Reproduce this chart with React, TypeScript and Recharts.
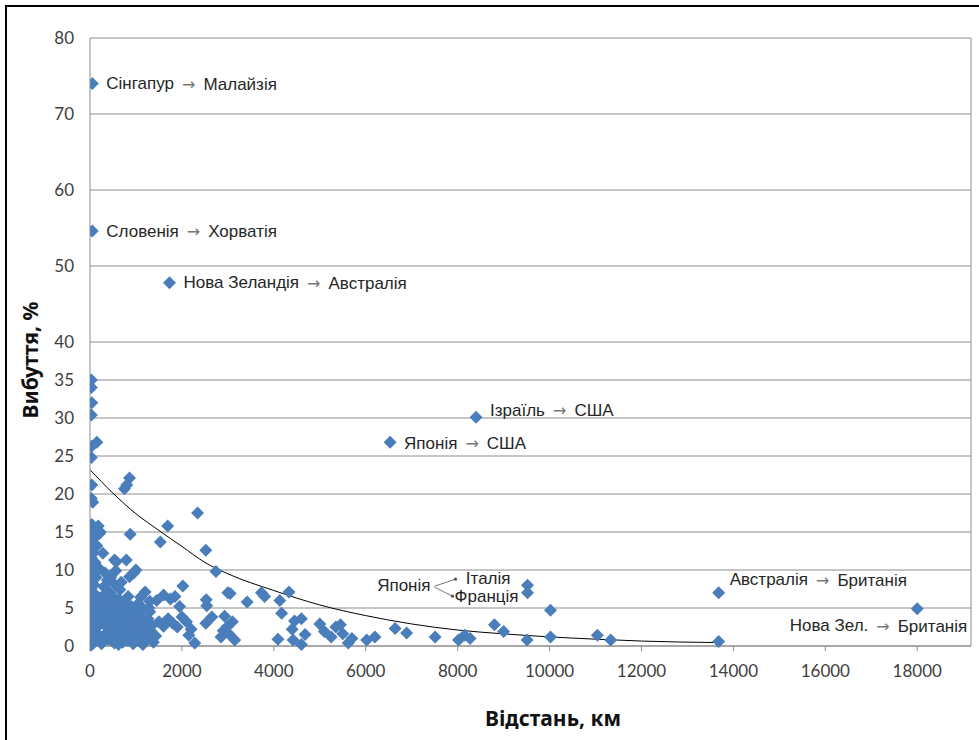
import React from 'react';
import { ComposedChart, Scatter, Line, XAxis, YAxis, CartesianGrid, ReferenceLine } from 'recharts';

const xTicks = [0, 2000, 4000, 6000, 8000, 10000, 12000, 14000, 16000, 18000];
const yTicks = [0, 5, 10, 15, 20, 25, 30, 35, 40, 50, 60, 70, 80];

// distance (km), loss (%)
const columnNearZero = [
  [30, 35], [30, 34], [40, 32], [30, 30.4], [150, 26.8], [40, 26.3], [30, 24.8], [40, 21.2],
  [30, 19.4], [60, 18.9], [40, 16], [180, 15.8], [60, 15.4], [220, 15], [30, 14.7], [90, 14.2],
  [40, 13.6], [150, 13.2], [30, 12.8], [70, 12.2], [30, 11.6], [110, 11], [40, 10.5], [60, 10],
  [30, 9.4], [130, 9], [40, 8.6], [80, 8.1], [30, 7.6], [60, 7.1], [30, 6.6], [100, 6.2],
  [40, 5.7], [30, 5.2], [70, 4.8], [30, 4.3], [50, 3.8], [30, 3.3], [80, 2.9], [30, 2.4],
  [60, 2], [30, 1.5], [90, 1.1], [30, 0.7], [60, 0.3], [20, 0.1],
];

const shortRange = [
  [200, 6.3], [260, 5.4], [320, 6.8], [380, 4.6], [450, 5.9], [520, 6.4], [580, 5.1], [640, 6.1],
  [700, 4.7], [760, 5.8], [830, 6.5], [900, 5.2], [980, 4.4], [1050, 5.6], [1150, 4.9], [1280, 5.0],
  [1300, 5.9], [160, 3.9], [240, 3.1], [300, 4.2], [350, 2.6], [420, 3.6], [480, 2.2], [560, 3.8],
  [600, 2.9], [680, 3.4], [720, 2.1], [790, 4.0], [850, 2.8], [920, 3.3], [960, 2.4], [1020, 3.7],
  [1090, 2.6], [1170, 3.1], [1230, 2.0], [1350, 2.7], [130, 1.8], [210, 1.2], [280, 0.6], [340, 1.6],
  [400, 0.9], [460, 1.4], [530, 0.4], [590, 1.9], [650, 1.0], [710, 0.5], [770, 1.5], [820, 0.8],
  [880, 1.8], [940, 0.3], [1000, 1.2], [1070, 0.7], [1130, 1.6], [1200, 0.9], [1250, 1.4], [1380, 0.5],
  [1430, 1.3], [280, 12.2], [535, 11.3], [570, 11.1], [790, 11.3], [1000, 10], [860, 9.1], [380, 8.7],
  [450, 9.0], [207, 14.8], [875, 14.7], [750, 20.7], [860, 22.1], [800, 21.2], [950, 9.6], [650, 7.4],
  [300, 7.8], [520, 8.2], [150, 5.0], [230, 4.5], [330, 5.6], [410, 3.0], [470, 4.4], [540, 2.8],
  [610, 4.5], [660, 2.3], [740, 3.0], [800, 4.8], [870, 3.9], [910, 1.2], [990, 2.0], [1060, 4.6],
  [1110, 3.9], [1180, 2.3], [1260, 3.6], [1330, 1.9], [180, 2.6], [250, 0.3], [370, 3.3], [500, 1.0],
  [620, 0.2], [750, 2.4], [960, 1.0], [1150, 0.2], [430, 7.0], [680, 8.4], [200, 10.2], [330, 9.6],
  [560, 9.9], [1100, 6.4], [1200, 7.1],
];

const midRange = [
  [1530, 13.7], [1690, 15.8], [2340, 17.5], [2520, 12.6], [2740, 9.8], [2020, 7.9], [3000, 7.0],
  [2530, 6.1], [2540, 5.3], [3420, 5.8], [1270, 5.0], [1300, 4.5], [1450, 6.0], [1600, 6.7],
  [1750, 6.2], [1850, 6.5], [1950, 5.2], [1500, 3.2], [1600, 2.6], [1700, 3.6], [1800, 3.0],
  [1900, 2.5], [2000, 3.8], [2100, 3.2], [2150, 1.4], [2200, 2.2], [2280, 0.4], [2520, 3.0],
  [2650, 3.8], [2930, 3.9], [2980, 2.5], [3020, 1.6], [3100, 3.2], [3150, 0.8], [2850, 1.2],
  [2900, 2.0], [3050, 6.9],
];

const longRange = [
  [3730, 7.0], [3800, 6.5], [4130, 6.0], [4330, 7.1], [4170, 4.3], [4090, 0.9], [4400, 2.2],
  [4450, 3.3], [4600, 3.6], [4420, 0.8], [4600, 0.2], [4680, 1.5], [5000, 2.9], [5100, 1.9],
  [5250, 1.2], [5350, 2.5], [5450, 2.8], [5500, 1.6], [5620, 0.4], [5700, 1.0], [6020, 0.8],
  [6200, 1.2], [6640, 2.3], [6890, 1.7], [7510, 1.2], [8020, 0.8], [8150, 1.4], [8270, 1.0],
  [8800, 2.8], [9000, 1.9], [9510, 0.8], [10020, 4.7], [10020, 1.2], [11040, 1.4], [11330, 0.8],
  [13680, 0.6],
];

const namedPairs = [
  { id: 'sg', x: 50, y: 74, text: 'Сінгапур', to: 'Малайзія' },
  { id: 'si', x: 50, y: 54.6, text: 'Словенія', to: 'Хорватія' },
  { id: 'nz', x: 1730, y: 47.8, text: 'Нова Зеландія', to: 'Австралія' },
  { id: 'il', x: 8400, y: 30.1, text: 'Ізраїль', to: 'США' },
  { id: 'jp', x: 6530, y: 26.8, text: 'Японія', to: 'США' },
  { id: 'it', x: 9520, y: 8.0, text: 'Японія', to: 'Італія' },
  { id: 'fr', x: 9520, y: 7.0, text: 'Японія', to: 'Франція' },
  { id: 'au', x: 13680, y: 7.0, text: 'Австралія', to: 'Британія' },
  { id: 'nzb', x: 18000, y: 4.9, text: 'Нова Зел.', to: 'Британія' },
];

const trendDistance = [0, 500, 1000, 1500, 2000, 2500, 3000, 4000, 5000, 6000, 7000, 8000, 9000, 10000, 11000, 12000, 13680];
const trendLoss = [23.2, 20.1, 17.4, 15.2, 13.1, 11.0, 9.5, 7.3, 5.4, 4.0, 2.9, 2.1, 1.6, 1.2, 0.9, 0.65, 0.45];

const X_MAX = 19170;
const BLUE = '#4a7ebb';
const GRID = '#8c8c8c';
const TEXT = '#262626';
const LABEL_FONT = '"Liberation Sans", Arial, sans-serif';

const labelPlacement: Record<string, { dx: number; dy: number; anchor: 'start' | 'end' }> = {
  sg: { dx: 14, dy: 0, anchor: 'start' },
  si: { dx: 14, dy: 0, anchor: 'start' },
  nz: { dx: 14, dy: 0, anchor: 'start' },
  il: { dx: 14, dy: -7, anchor: 'start' },
  jp: { dx: 14, dy: 1, anchor: 'start' },
  au: { dx: 11, dy: -13, anchor: 'start' },
  nzb: { dx: 50, dy: 17, anchor: 'end' },
};

const toPoints = (arr: number[][]) => arr.map(([x, y]) => ({ x, y }));
const allPoints = [...columnNearZero, ...shortRange, ...midRange, ...longRange];
const trend = trendDistance.map((x, i) => ({ x, y: trendLoss[i] }));

const R = 6.5;
const diamondPath = (cx: number, cy: number) =>
  `M${cx},${cy - R}L${cx + R},${cy}L${cx},${cy + R}L${cx - R},${cy}Z`;

const Diamond = (props: any) => <path d={diamondPath(props.cx, props.cy)} fill={BLUE} />;

const LabeledDiamond = (props: any) => {
  const { cx, cy, payload } = props;
  const id = payload.id;
  const common = { fontFamily: LABEL_FONT, fontSize: 17, fill: TEXT, dominantBaseline: 'central' as const };
  let label: React.ReactNode = null;
  if (id === 'it') {
    label = (
      <g>
        <text x={cx - 97} y={cy} textAnchor="end" {...common}>{payload.text}</text>
        <text x={cx - 17} y={cy - 7} textAnchor="end" {...common}>{payload.to}</text>
        <path d={`M${cx - 93},${cy + 1}L${cx - 72},${cy - 6}M${cx - 93},${cy + 2}L${cx - 75},${cy + 11}`} stroke="#777" strokeWidth={1} fill="none" />
        <circle cx={cx - 72} cy={cy - 6} r={1.6} fill="#555" />
        <circle cx={cx - 75} cy={cy + 11} r={1.6} fill="#555" />
      </g>
    );
  } else if (id === 'fr') {
    label = <text x={cx - 9} y={cy + 4} textAnchor="end" {...common}>{payload.to}</text>;
  } else {
    const p = labelPlacement[id];
    label = (
      <text x={cx + p.dx} y={cy + p.dy} textAnchor={p.anchor} {...common}>
        {payload.text}
        <tspan dx={8} fill="#777" fontFamily='"DejaVu Sans", sans-serif' fontSize={16}>→</tspan>
        <tspan dx={8}>{payload.to}</tspan>
      </text>
    );
  }
  return (
    <g>
      <path d={diamondPath(cx, cy)} fill={BLUE} />
      {label}
    </g>
  );
};

const tickStyle = { fontFamily: 'Lato, "Open Sans", sans-serif', fontSize: 17, fill: '#404040' };

export default function App() {
  return (
    <div style={{ position: 'absolute', left: 0, top: 0, width: 979, height: 740, background: '#fff', overflow: 'hidden' }}>
      <div style={{ position: 'absolute', left: 0, top: 0 }}>
        <ComposedChart width={979} height={740} margin={{ top: 38, right: 8, bottom: 0, left: 0 }}>
          <CartesianGrid vertical={false} stroke={GRID} strokeWidth={1} />
          <XAxis
            type="number"
            dataKey="x"
            domain={[0, X_MAX]}
            ticks={xTicks}
            interval={0}
            allowDataOverflow
            height={94}
            stroke={GRID}
            tickSize={5}
            tickMargin={14}
            tick={tickStyle}
            label={() => (
              <text x={553} y={718} textAnchor="middle" dominantBaseline="central" fontFamily='"Noto Sans", sans-serif' fontWeight="bold" fontSize={21} fill="#111">
                Відстань, км
              </text>
            )}
          />
          <YAxis
            type="number"
            dataKey="y"
            domain={[0, 80]}
            ticks={yTicks}
            interval={0}
            width={90}
            stroke={GRID}
            tickLine={false}
            tickSize={0}
            tickMargin={16}
            tick={tickStyle}
            label={() => (
              <text x={30} y={360} textAnchor="middle" dominantBaseline="central" transform="rotate(-90 30 360)" fontFamily='"Noto Sans", sans-serif' fontWeight="bold" fontSize={21} fill="#111">
                Вибуття, %
              </text>
            )}
          />
          <ReferenceLine x={X_MAX} stroke={GRID} />
          <Scatter data={toPoints(allPoints)} shape={Diamond} isAnimationActive={false} />
          <Scatter data={namedPairs} shape={LabeledDiamond} isAnimationActive={false} />
          <Line data={trend} dataKey="y" type="monotone" stroke="#000" strokeWidth={1} dot={false} activeDot={false} isAnimationActive={false} />
        </ComposedChart>
      </div>
      <div style={{ position: 'absolute', left: 5, top: 5, width: 1000, height: 1000, borderLeft: '2.5px solid #000', borderTop: '2.5px solid #000', pointerEvents: 'none' }} />
    </div>
  );
}
